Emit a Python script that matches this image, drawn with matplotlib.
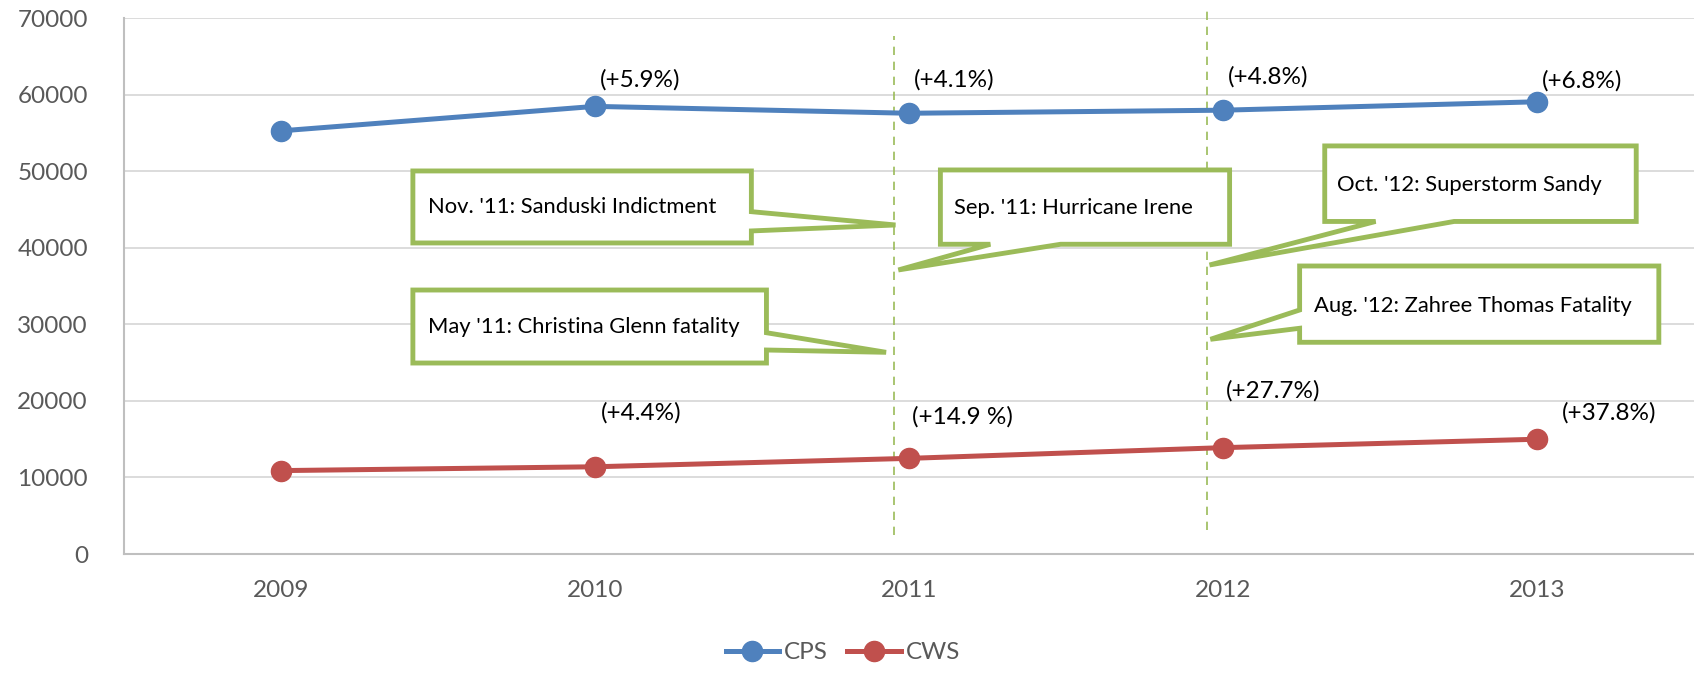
import matplotlib
matplotlib.use('Agg')
import matplotlib.pyplot as plt
from matplotlib.patches import Polygon

# data
years = ['2009', '2010', '2011', '2012', '2013']
cps = [55300, 58500, 57600, 58000, 59100]
cws = [10900, 11400, 12500, 13900, 15000]
cps_change = ['', '(+5.9%)', '(+4.1%)', '(+4.8%)', '(+6.8%)']
cws_change = ['', '(+4.4%)', '(+14.9 %)', '(+27.7%)', '(+37.8%)']
events = ["Nov. '11: Sanduski Indictment",
          "May '11: Christina Glenn fatality",
          "Sep. '11: Hurricane Irene",
          "Oct. '12: Superstorm Sandy",
          "Aug. '12: Zahree Thomas Fatality"]

# layout (label offsets / callout geometry in data units)
cps_label_y = [0, 61950, 61950, 62390, 61860]
cws_label_y = [0, 18470, 17950, 21350, 18470]
cws_label_dx = [0, 0.02, 0.01, 0.01, 0.08]
# box: x0, x1, y0, y1 ; side of pointer ; pointer base a, b ; tip
callouts = [
    dict(box=(0.42, 1.498, 40650, 50060), side='right', base=(44740, 42220), tip=(1.957, 43000), txt=(0.468, 45350)),
    dict(box=(0.42, 1.546, 24960, 34500), side='right', base=(28920, 26660), tip=(1.927, 26360), txt=(0.468, 29710)),
    dict(box=(2.100, 3.021, 40480, 50190), side='bottom', base=(2.259, 2.483), tip=(1.966, 37120), txt=(2.142, 45180)),
    dict(box=(3.324, 4.316, 43460, 53330), side='bottom', base=(3.486, 3.736), tip=(2.957, 37770), txt=(3.363, 48230)),
    dict(box=(3.244, 4.388, 27670, 37640), side='left', base=(31890, 29500), tip=(2.96, 28060), txt=(3.289, 32450)),
]
event_lines = [(1.952, 2500, 67700), (2.948, 3200, 71600)]

blue = '#4F81BD'
red = '#C0504D'
green = '#9BBB59'
grey = '#595959'

plt.rcParams['font.family'] = ['Lato', 'DejaVu Sans']

fig = plt.figure(figsize=(16.94, 6.73), dpi=100)
ax = fig.add_axes([0.0732, 0.1768, 0.9268, 0.7959])

x = list(range(len(years)))
ax.plot(x, cps, color=blue, lw=3.6, marker='o', ms=14.5, label='CPS', zorder=4)
ax.plot(x, cws, color=red, lw=3.6, marker='o', ms=14.5, label='CWS', zorder=4)

ax.set_xlim(-0.5, 4.5)
ax.set_ylim(0, 70000)
ax.set_yticks(range(0, 70001, 10000))
ax.set_xticks(x)
ax.set_xticklabels(years)
ax.yaxis.grid(True, color='#D9D9D9', lw=1.3)
ax.set_axisbelow(True)
for s in ['top', 'right']:
    ax.spines[s].set_visible(False)
for s in ['left', 'bottom']:
    ax.spines[s].set_color('#BFBFBF')
    ax.spines[s].set_linewidth(1.5)
ax.tick_params(length=0, labelsize=17.5, labelcolor=grey)
ax.tick_params(axis='x', pad=19)
ax.tick_params(axis='y', pad=26)

for i in range(1, len(years)):
    ax.text(i + 0.017, cps_label_y[i], cps_change[i], fontsize=17.5,
            va='center', ha='left', color='black')
    ax.text(i + cws_label_dx[i], cws_label_y[i], cws_change[i], fontsize=17.5,
            va='center', ha='left', color='black')

for ex, y0, y1 in event_lines:
    ax.plot([ex, ex], [y0, y1], color=green, lw=1.2, ls=(0, (5, 4)), clip_on=False, zorder=2)

for c, label in zip(callouts, events):
    x0, x1, y0, y1 = c['box']
    tip = c['tip']
    a, b = c['base']
    if c['side'] == 'right':
        verts = [(x0, y1), (x1, y1), (x1, a), tip, (x1, b), (x1, y0), (x0, y0)]
    elif c['side'] == 'bottom':
        verts = [(x0, y1), (x1, y1), (x1, y0), (b, y0), tip, (a, y0), (x0, y0)]
    else:
        verts = [(x0, y1), (x1, y1), (x1, y0), (x0, y0), (x0, b), tip, (x0, a)]
    ax.add_patch(Polygon(verts, closed=True, facecolor='white', edgecolor=green,
                         lw=3.5, joinstyle='miter', zorder=5))
    ax.text(c['txt'][0], c['txt'][1], label, fontsize=15.8, va='center', ha='left',
            color='black', zorder=6)

fig.legend(loc='center', bbox_to_anchor=(0.4976, 0.0303), ncol=2, frameon=False,
           fontsize=17.5, labelcolor=grey, handlelength=2.2, handletextpad=0.2,
           columnspacing=0.8)

fig.savefig('out.png', dpi=100)
